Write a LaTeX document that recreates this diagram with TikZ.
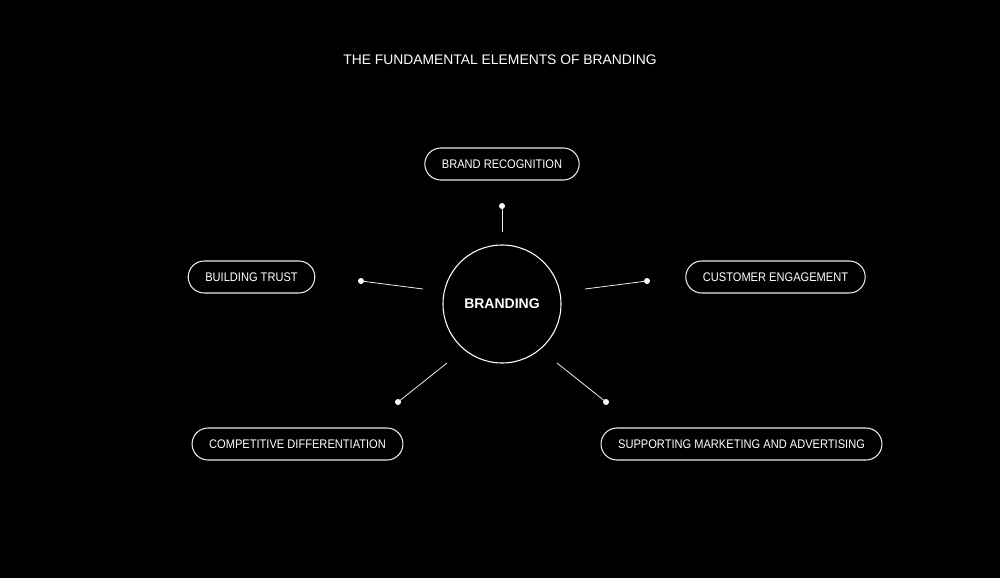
\documentclass[tikz,border=0pt]{standalone}
\usepackage{fontspec}
\setmainfont{Liberation Sans}
\newfontfamily\pillfont[FakeStretch=0.89]{Liberation Sans}
\begin{document}
\begin{tikzpicture}[x=0.75pt,y=-0.75pt,
  pill/.style={draw=white!92!black, line width=0.8pt, rounded corners=12pt, minimum height=24pt, inner xsep=12.8pt, text=white, font=\pillfont\fontsize{9.35}{11}\selectfont},
  hub/.style={draw=white, line width=0.8pt, circle, minimum size=88.5pt, text=white, font=\bfseries\fontsize{10.5}{12}\selectfont},
  link/.style={draw=white!92!black, line width=0.6pt},
  dotn/.style={circle, fill=white, inner sep=0pt, minimum size=4.5pt}]
\fill[black] (0,0) rectangle (1000,578);
\useasboundingbox (0,0) rectangle (1000,578);
\node[text=white, font=\fontsize{10.4}{12}\selectfont] (title) at (500,60) {THE FUNDAMENTAL ELEMENTS OF BRANDING};
\node[hub] (c) at (502,304) {BRANDING};
\node[pill] (rec) at (502,164) {BRAND RECOGNITION};
\node[pill] (trust) at (251.5,277) {BUILDING TRUST};
\node[pill] (eng) at (775.5,277) {CUSTOMER ENGAGEMENT};
\node[pill] (comp) at (297.5,444) {COMPETITIVE DIFFERENTIATION};
\node[pill] (sup) at (741.5,444) {SUPPORTING MARKETING AND ADVERTISING};
\node[dotn] (d1) at (502,206) {};
\node[dotn] (d2) at (361,281) {};
\node[dotn] (d3) at (647,281) {};
\node[dotn] (d4) at (398,402) {};
\node[dotn] (d5) at (606,402) {};
\coordinate (e1) at (502,232);
\coordinate (e2) at (423,289);
\coordinate (e3) at (585,289);
\coordinate (e4) at (447,363);
\coordinate (e5) at (557,363);
\draw[link] (d1.center) -- (e1);
\draw[link] (d2.center) -- (e2);
\draw[link] (d3.center) -- (e3);
\draw[link] (d4.center) -- (e4);
\draw[link] (d5.center) -- (e5);
\end{tikzpicture}
\end{document}
